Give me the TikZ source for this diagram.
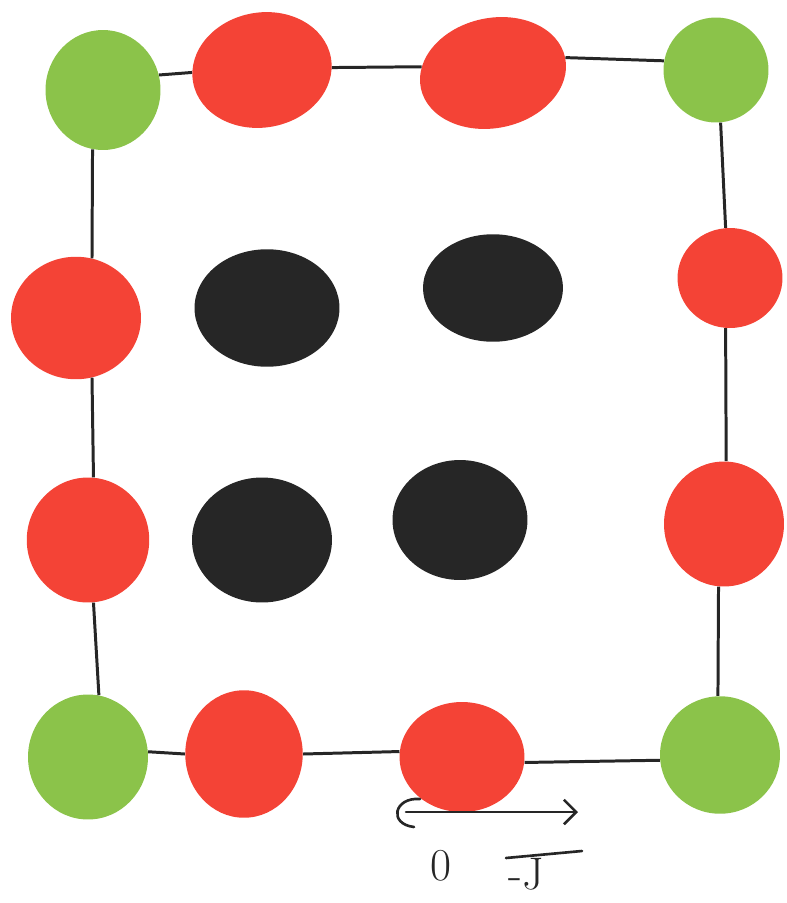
\documentclass[tikz,border=0pt]{standalone}
\usepackage{tikz}
\usetikzlibrary{arrows.meta,shapes.geometric}

\definecolor{dotgreen}{RGB}{139,195,74}
\definecolor{dotred}{RGB}{244,67,54}
\definecolor{dotblack}{RGB}{38,38,38}

\begin{document}
\begin{tikzpicture}[x=0.02cm,y=-0.02cm,
  dot/.style={ellipse,inner sep=0pt},
  corner/.style={dot,fill=dotgreen},
  edgedot/.style={dot,fill=dotred},
  innerdot/.style={dot,fill=dotblack},
  bond/.style={line width=1.7pt,dotblack},
  hand/.style={line width=1.5pt,dotblack,line cap=round}]
  \useasboundingbox (0,0) rectangle (787,903);
  % corners
  \node[corner,minimum width=2.3cm,minimum height=2.4cm] (gtl) at (103,90) {};
  \node[corner,minimum width=2.1cm,minimum height=2.1cm] (gtr) at (716,70) {};
  \node[corner,minimum width=2.4cm,minimum height=2.5cm] (gbl) at (88,757) {};
  \node[corner,minimum width=2.4cm,minimum height=2.35cm] (gbr) at (720,755) {};
  % red ones along the sides
  \node[edgedot,minimum width=2.8cm,minimum height=2.3cm,rotate=10] (rt1) at (262,70) {};
  \node[edgedot,minimum width=2.95cm,minimum height=2.2cm,rotate=12] (rt2) at (493,73) {};
  \node[edgedot,minimum width=2.6cm,minimum height=2.45cm] (rl1) at (76,318) {};
  \node[edgedot,minimum width=2.45cm,minimum height=2.5cm] (rl2) at (88,540) {};
  \node[edgedot,minimum width=2.1cm,minimum height=2.0cm] (rr1) at (730,278) {};
  \node[edgedot,minimum width=2.4cm,minimum height=2.5cm] (rr2) at (724,524) {};
  \node[edgedot,minimum width=2.35cm,minimum height=2.55cm] (rb1) at (244,754) {};
  \node[edgedot,minimum width=2.5cm,minimum height=2.2cm] (rb2) at (462,757) {};
  % the four black ones inside
  \node[innerdot,minimum width=2.9cm,minimum height=2.35cm] (b1) at (267,308) {};
  \node[innerdot,minimum width=2.8cm,minimum height=2.15cm] (b2) at (493,288) {};
  \node[innerdot,minimum width=2.8cm,minimum height=2.5cm] (b3) at (262,540) {};
  \node[innerdot,minimum width=2.7cm,minimum height=2.4cm] (b4) at (460,520) {};
  % frame, hooked onto the blobs at fixed angles
  \draw[bond] (gtl.15) -- (rt1.172);
  \draw[bond] (rt1.352) -- (rt2.163);
  \draw[bond] (rt2.0) -- (gtr.170);
  \draw[bond] (gtr.275) -- (rr1.95);
  \draw[bond] (rr1.265) -- (rr2.88);
  \draw[bond] (rr2.265) -- (gbr.92);
  \draw[bond] (gbr.185) -- (rb2.355);
  \draw[bond] (rb2.175) -- (rb1.0);
  \draw[bond] (rb1.180) -- (gbl.5);
  \draw[bond] (gbl.80) -- (rl2.275);
  \draw[bond] (rl2.85) -- (rl1.285);
  \draw[bond] (rl1.75) -- (gtl.260);
  % axis under the bottom row
  \coordinate (ax0) at (406,812);
  \coordinate (ax1) at (578,812);
  \draw[hand,-{Straight Barb[length=7pt,width=14pt]}] (ax0) -- (ax1);
  \draw[hand] (420,799) .. controls (394,797) and (388,824) .. (414,827);
  \draw[hand] (506,858) -- (582,851);
  \node[dotblack,font=\fontsize{26}{30}\selectfont] (l0) at (441,866) {0};
  \node[dotblack,font=\fontsize{26}{30}\selectfont] (l1) at (526,874) {-J};
\end{tikzpicture}
\end{document}
